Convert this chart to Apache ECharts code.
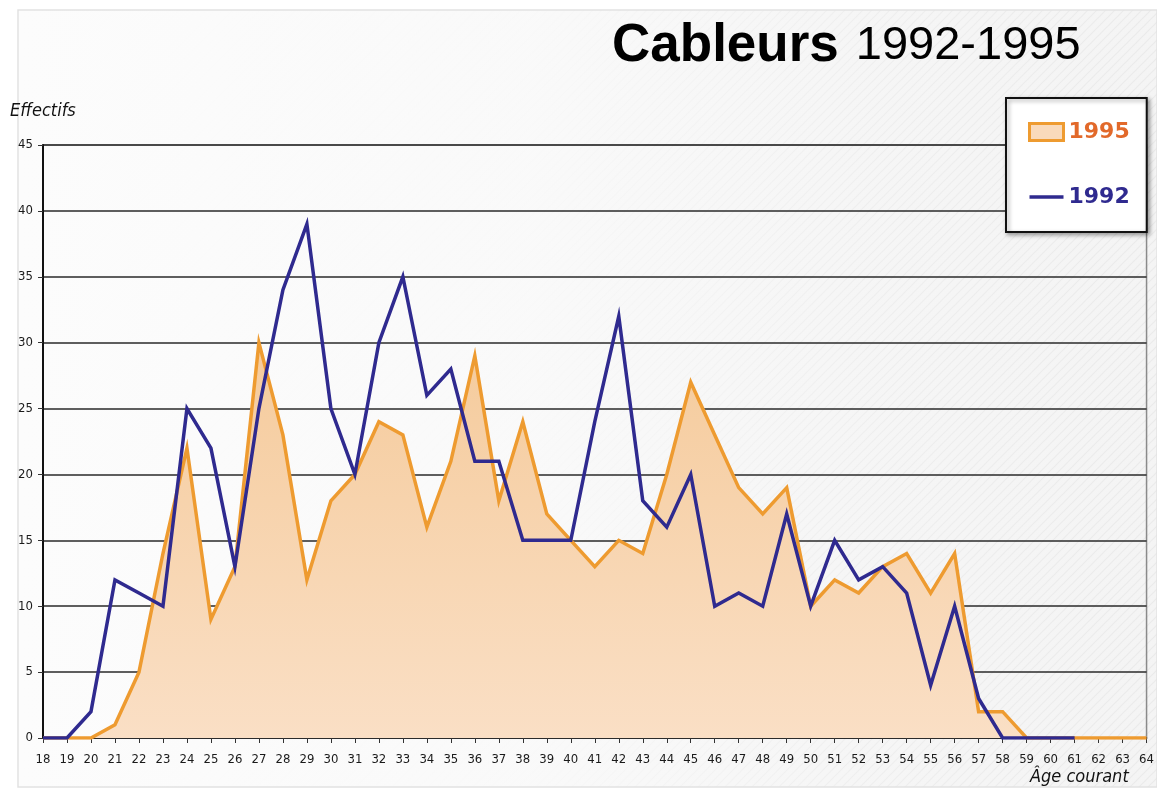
<!DOCTYPE html>
<html>
<head>
<meta charset="utf-8">
<script src="https://cdn.jsdelivr.net/npm/echarts@6/dist/echarts.min.js"></script>
<style>
  html, body { margin: 0; padding: 0; background: #ffffff; }
  #chart { width: 1157px; height: 789px; }
</style>
</head>
<body>
<div id="chart"></div>
<script>
// ---- Data ----
const ages = ['18','19','20','21','22','23','24','25','26','27','28','29','30','31','32','33','34','35','36','37','38','39','40','41','42','43','44','45','46','47','48','49','50','51','52','53','54','55','56','57','58','59','60','61','62','63','64'];
const values1995 = [0,0,0,1,5,14,22,9,13,30,23,12,18,20,24,23,16,21,29,18,24,17,15,13,15,14,20,27,23,19,17,19,10,12,11,13,14,11,14,2,2,0,0,0,0,0,0];
const values1992 = [0,0,2,12,11,10,25,22,13,25,34,39,25,20,30,35,26,28,21,21,15,15,15,24,32,18,16,20,10,11,10,17,10,15,12,13,11,4,10,3,0,0,0,0,null,null,null];
const yTicks = { min: 0, max: 45, interval: 5 };
const titleBold = 'Cableurs';
const titleRange = '1992-1995';
const yName = 'Effectifs';
const xName = 'Âge courant';
const seriesNames = ['1995', '1992'];

// ---- Hatch pattern ----
function hatchCanvas() {
  const c = document.createElement('canvas');
  c.width = 9; c.height = 9;
  const g = c.getContext('2d');
  g.fillStyle = '#f4f4f4';
  g.fillRect(0, 0, 9, 9);
  g.strokeStyle = '#e8e8e8';
  g.lineWidth = 1.2;
  g.beginPath();
  g.moveTo(-1, 10); g.lineTo(10, -1);
  g.moveTo(-1, 1); g.lineTo(1, -1);
  g.moveTo(8, 10); g.lineTo(10, 8);
  g.stroke();
  return c;
}

const chart = echarts.init(document.getElementById('chart'));
const condensed = "'DejaVu Sans Condensed', 'DejaVu Sans', sans-serif";

const option = {
  animation: false,
  backgroundColor: '#ffffff',
  title: {
    left: 607, top: 15,
    text: '{b|' + titleBold + '}{r|' + titleRange + '}',
    textStyle: {
      rich: {
        b: { fontFamily: "'Liberation Sans', Arial, sans-serif", fontWeight: 'bold', fontSize: 53, color: '#000' },
        r: { fontFamily: "'Liberation Sans', Arial, sans-serif", fontWeight: 'normal', fontSize: 47, color: '#000', padding: [0, 0, 0, 17] }
      }
    }
  },
  graphic: [
    { type: 'rect', z: -10, silent: true, shape: { x: 18, y: 10, width: 1139, height: 777 },
      style: { fill: { image: hatchCanvas(), repeat: 'repeat' }, stroke: null } },
    { type: 'rect', z: -9, silent: true, shape: { x: 18, y: 10, width: 1139, height: 777 },
      style: { fill: new echarts.graphic.LinearGradient(0, 0, 1, 0, [
        { offset: 0, color: 'rgba(252,252,252,1)' },
        { offset: 0.45, color: 'rgba(250,250,250,0.92)' },
        { offset: 0.75, color: 'rgba(248,248,248,0.4)' },
        { offset: 1, color: 'rgba(245,245,245,0.2)' }
      ]), stroke: '#e2e2e2', lineWidth: 1.5 } },
    { type: 'text', left: 10, top: 102, z: 5,
      style: { text: yName, fontFamily: condensed, fontStyle: 'italic', fontSize: 18, fill: '#111' } },
    { type: 'text', left: 1030, top: 768, z: 5,
      style: { text: xName, fontFamily: condensed, fontStyle: 'italic', fontSize: 18, fill: '#111' } }
  ],
  legend: {
    orient: 'vertical',
    left: 1006, top: 98,
    padding: [23, 17, 24, 22],
    itemWidth: 34, itemHeight: 17, itemGap: 43,
    backgroundColor: '#ffffff',
    borderColor: '#111111', borderWidth: 2,
    shadowColor: 'rgba(0,0,0,0.35)', shadowBlur: 4, shadowOffsetX: 2, shadowOffsetY: 2,
    textStyle: { fontFamily: "'DejaVu Sans', Verdana, sans-serif", fontWeight: 'bold', fontSize: 22 },
    data: [
      { name: seriesNames[0], icon: 'rect',
        itemStyle: { color: '#F9DABB', borderColor: '#EE9B30', borderWidth: 3 },
        textStyle: { color: '#E2692A' } },
      { name: seriesNames[1], icon: 'path://M0,0H34V3.5H0Z',
        itemStyle: { color: '#2F2A8F', borderWidth: 0 },
        textStyle: { color: '#2F2A8F' } }
    ]
  },
  grid: {
    left: 43, right: 7, top: 145, bottom: 51,
    show: true, backgroundColor: 'transparent', borderColor: '#8a8a8a', borderWidth: 1.5
  },
  xAxis: {
    type: 'category',
    data: ages,
    boundaryGap: false,
    axisLine: { lineStyle: { color: '#222', width: 1.5 } },
    axisTick: { show: true, interval: 0, length: 5, lineStyle: { color: '#333' } },
    axisLabel: { interval: 0, margin: 15, fontFamily: condensed, fontSize: 13, color: '#1a1a1a' },
    splitLine: { show: false }
  },
  yAxis: {
    type: 'value',
    min: yTicks.min, max: yTicks.max, interval: yTicks.interval,
    axisLine: { show: true, lineStyle: { color: '#111', width: 2 } },
    axisTick: { show: true, length: 5, lineStyle: { color: '#333' } },
    axisLabel: { margin: 10, fontFamily: condensed, fontSize: 13, color: '#1a1a1a' },
    splitLine: { show: true, lineStyle: { color: '#2a2a2a', width: 1.6 } }
  },
  series: [
    {
      name: seriesNames[0], type: 'line', data: values1995,
      symbol: 'none', z: 2,
      lineStyle: { color: '#EE9B30', width: 3.5, join: 'miter' },
      itemStyle: { color: '#EE9B30' },
      areaStyle: {
        opacity: 1,
        color: new echarts.graphic.LinearGradient(0, 0, 0, 1, [
          { offset: 0, color: '#F5CB9C' },
          { offset: 1, color: '#FADFC5' }
        ])
      }
    },
    {
      name: seriesNames[1], type: 'line', data: values1992,
      symbol: 'none', z: 3, connectNulls: false,
      lineStyle: { color: '#2F2A8F', width: 3.5, join: 'miter' },
      itemStyle: { color: '#2F2A8F' }
    }
  ]
};
chart.setOption(option);
</script>
</body>
</html>
